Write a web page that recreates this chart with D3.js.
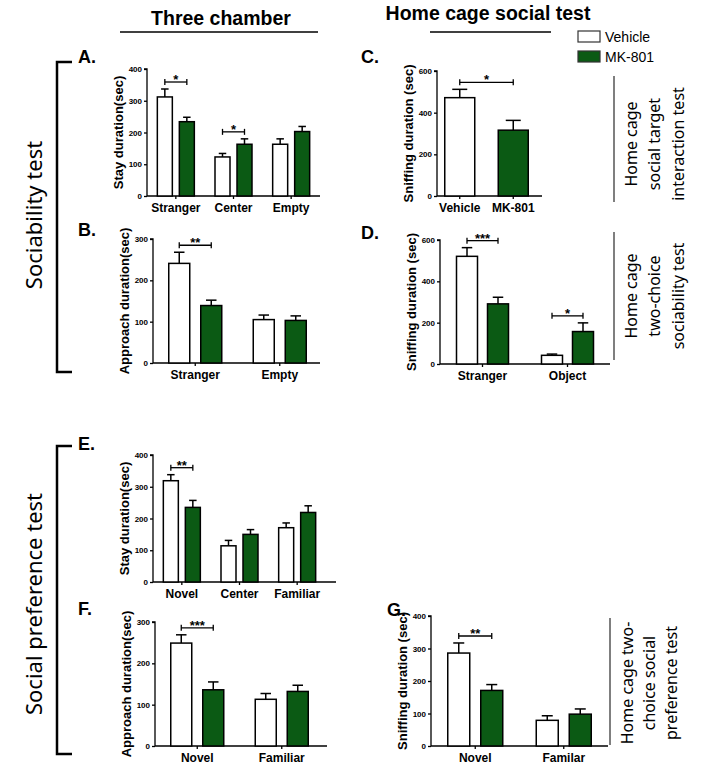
<!DOCTYPE html>
<html>
<head>
<meta charset="utf-8">
<script src="https://cdn.jsdelivr.net/npm/d3@7"></script>
<style>
  body { margin: 0; background: #fff; }
  svg text { font-family: "Liberation Sans", Arial, sans-serif; }
  .side { font-family: "Noto Sans", "Open Sans", sans-serif !important; }
</style>
</head>
<body>
<svg id="fig" width="722" height="770"></svg>
<script>
const groups = ['Vehicle', 'MK-801'];

// A. Three chamber, sociability
const catsA = ['Stranger', 'Center', 'Empty'];
const vehA = [312, 123, 163];
const vehErrA = [25, 11, 17];
const mkA = [234, 163, 203];
const mkErrA = [14, 17, 16];
const sigA = ['*', '*', ''];
const ticksA = [0, 100, 200, 300, 400];

// B. Three chamber approach
const catsB = ['Stranger', 'Empty'];
const vehB = [241, 105];
const vehErrB = [27, 11];
const mkB = [139, 103];
const mkErrB = [13, 11];
const sigB = ['**', ''];
const ticksB = [0, 100, 200, 300];

// C. Home cage social target interaction
const catsC = ['Vehicle', 'MK-801'];
const valC = [472, 316];
const errC = [40, 47];
const sigC = '*';
const ticksC = [0, 200, 400, 600];

// D. Home cage two-choice sociability
const catsD = ['Stranger', 'Object'];
const vehD = [521, 42];
const vehErrD = [42, 6];
const mkD = [291, 157];
const mkErrD = [32, 42];
const sigD = ['***', '*'];
const ticksD = [0, 200, 400, 600];

// E. Three chamber, social preference
const catsE = ['Novel', 'Center', 'Familiar'];
const vehE = [319, 114, 171];
const vehErrE = [19, 17, 15];
const mkE = [235, 150, 219];
const mkErrE = [22, 15, 21];
const sigE = ['**', '', ''];
const ticksE = [0, 100, 200, 300, 400];

// F. approach, social preference
const catsF = ['Novel', 'Familiar'];
const vehF = [249, 113];
const vehErrF = [20, 14];
const mkF = [136, 132];
const mkErrF = [19, 15];
const sigF = ['***', ''];
const ticksF = [0, 100, 200, 300];

// G. home cage two-choice social preference
const catsG = ['Novel', 'Familar'];
const vehG = [286, 79];
const vehErrG = [31, 14];
const mkG = [171, 98];
const mkErrG = [18, 16];
const sigG = ['**', ''];
const ticksG = [0, 100, 200, 300, 400];

const GREEN = '#0b5a14';
const svg = d3.select('#fig');

function drawPanel(cfg) {
  const g = svg.append('g');
  const y = d3.scaleLinear()
    .domain([0, d3.max(cfg.ticks)])
    .range([cfg.bottom, cfg.top]);
  const x = cfg.x;
  const inner = cfg.inner;

  // y axis
  const yAxis = g.append('g')
    .attr('transform', `translate(${cfg.left},0)`)
    .call(d3.axisLeft(y).tickValues(cfg.ticks).tickSize(3).tickPadding(2));
  yAxis.selectAll('path, line').attr('stroke', '#000').attr('stroke-width', 1.3);
  yAxis.select('.domain').attr('d', `M-3,${cfg.top}H0V${cfg.bottom}`);
  yAxis.selectAll('text').style('font-size', '8px').style('font-weight', 'bold')
    .style('font-family', '"Liberation Sans", Arial, sans-serif');

  // x axis
  const xAxis = g.append('g')
    .attr('transform', `translate(0,${cfg.bottom})`)
    .call(d3.axisBottom(x).tickSize(3).tickPadding(4));
  xAxis.selectAll('path, line').attr('stroke', '#000').attr('stroke-width', 1.3);
  xAxis.select('.domain').attr('d', `M${cfg.left},0H${cfg.axisEnd}`);
  xAxis.selectAll('text').style('font-size', '12px').style('font-weight', 'bold')
    .style('font-family', '"Liberation Sans", Arial, sans-serif');

  // y label
  g.append('text')
    .attr('transform', `translate(${cfg.left - 24},${(cfg.top + cfg.bottom) / 2}) rotate(-90)`)
    .attr('text-anchor', 'middle')
    .style('font-size', '13px')
    .style('font-weight', 'bold')
    .text(cfg.yLabel);

  // bars + error bars
  cfg.series.forEach(s => {
    const rows = cfg.cats.map((c, i) => ({ c, i, v: s.vals[i], e: s.errs[i] }));
    const bx = d => x(d.c) + x.bandwidth() / 2 + inner(s.name);
    const bw = inner.bandwidth();
    const eg = g.append('g').attr('stroke', '#000').attr('stroke-width', 1.5);
    eg.selectAll('line.err').data(rows).join('line')
      .attr('x1', d => bx(d) + bw / 2).attr('x2', d => bx(d) + bw / 2)
      .attr('y1', d => y(d.v)).attr('y2', d => y(d.v + d.e));
    eg.selectAll('line.cap').data(rows).join('line')
      .attr('x1', d => bx(d) + bw * 0.25).attr('x2', d => bx(d) + bw * 0.75)
      .attr('y1', d => y(d.v + d.e)).attr('y2', d => y(d.v + d.e));
    g.selectAll(null).data(rows).join('rect')
      .attr('x', bx)
      .attr('y', d => y(d.v))
      .attr('width', bw)
      .attr('height', d => y(0) - y(d.v))
      .attr('fill', d => typeof s.fill === 'function' ? s.fill(d) : s.fill)
      .attr('stroke', '#000')
      .attr('stroke-width', 1.5);
  });

  // significance brackets
  cfg.sig.forEach(sg => {
    if (!sg.label) return;
    const top = d3.max(sg.items, it => it.v + it.e);
    const yy = y(top) - 7;
    const x1 = sg.items[0].cx, x2 = sg.items[1].cx;
    const sgG = g.append('g').attr('stroke', '#000').attr('stroke-width', 1.3);
    sgG.append('line').attr('x1', x1).attr('x2', x2).attr('y1', yy).attr('y2', yy);
    sgG.append('line').attr('x1', x1).attr('x2', x1).attr('y1', yy - 3).attr('y2', yy + 3);
    sgG.append('line').attr('x1', x2).attr('x2', x2).attr('y1', yy - 3).attr('y2', yy + 3);
    g.append('text')
      .attr('x', (x1 + x2) / 2).attr('y', yy + 2)
      .attr('text-anchor', 'middle')
      .style('font-size', '13px')
      .style('font-weight', 'bold')
      .text(sg.label);
  });
}

function grouped(cats, veh, vehErr, mk, mkErr, sig, ticks, yLabel, box) {
  const x = d3.scaleBand().domain(cats).range([box.left, box.right]);
  const half = box.barW + box.gap / 2;
  const inner = d3.scaleBand().domain(groups).range([-half, half])
    .paddingInner(box.gap / (box.barW + box.gap));
  const cx = (c, name) => x(c) + x.bandwidth() / 2 + inner(name) + inner.bandwidth() / 2;
  drawPanel(Object.assign({}, box, {
    x, inner, cats, ticks, yLabel,
    series: [
      { name: 'Vehicle', vals: veh, errs: vehErr, fill: '#fff' },
      { name: 'MK-801', vals: mk, errs: mkErr, fill: GREEN }
    ],
    sig: cats.map((c, i) => ({
      label: sig[i],
      items: [
        { cx: cx(c, 'Vehicle'), v: veh[i], e: vehErr[i] },
        { cx: cx(c, 'MK-801'), v: mk[i], e: mkErr[i] }
      ]
    }))
  }));
}

grouped(catsA, vehA, vehErrA, mkA, mkErrA, sigA, ticksA, 'Stay duration(sec)',
  { left: 147, right: 320, axisEnd: 320, top: 69, bottom: 196, barW: 15, gap: 7 });
grouped(catsB, vehB, vehErrB, mkB, mkErrB, sigB, ticksB, 'Approach duration(sec)',
  { left: 153, right: 322, axisEnd: 320, top: 239, bottom: 363, barW: 21, gap: 11 });
grouped(catsD, vehD, vehErrD, mkD, mkErrD, sigD, ticksD, 'Sniffing duration (sec)',
  { left: 440, right: 610, axisEnd: 610, top: 240, bottom: 364, barW: 21, gap: 10 });
grouped(catsE, vehE, vehErrE, mkE, mkErrE, sigE, ticksE, 'Stay duration(sec)',
  { left: 153, right: 326, axisEnd: 336, top: 455, bottom: 582, barW: 15, gap: 7 });
grouped(catsF, vehF, vehErrF, mkF, mkErrF, sigF, ticksF, 'Approach duration(sec)',
  { left: 155, right: 324, axisEnd: 327, top: 622, bottom: 746, barW: 21, gap: 11 });
grouped(catsG, vehG, vehErrG, mkG, mkErrG, sigG, ticksG, 'Sniffing duration (sec)',
  { left: 431, right: 608, axisEnd: 608, top: 616, bottom: 746, barW: 22, gap: 11 });

// C: one bar per category, coloured by group
(function () {
  const box = { left: 437, axisEnd: 542, top: 71, bottom: 196 };
  const x = d3.scaleBand().domain(catsC).range([433, 540]);
  const inner = d3.scaleBand().domain(['all']).range([-15, 15]);
  const cx = c => x(c) + x.bandwidth() / 2;
  drawPanel(Object.assign({}, box, {
    x, inner, cats: catsC, ticks: ticksC, yLabel: 'Sniffing duration (sec)',
    series: [{ name: 'all', vals: valC, errs: errC, fill: d => d.i ? GREEN : '#fff' }],
    sig: [{ label: sigC, items: catsC.map((c, i) => ({ cx: cx(c), v: valC[i], e: errC[i] })) }]
  }));
})();

// panel letters
const letters = [['A.', 78, 63], ['B.', 78, 236], ['C.', 361, 63], ['D.', 361, 239],
  ['E.', 78, 450], ['F.', 78, 615], ['G.', 387, 616]];
svg.selectAll('text.letter').data(letters).join('text')
  .attr('class', 'letter')
  .attr('x', d => d[1]).attr('y', d => d[2])
  .style('font-size', '18px').style('font-weight', 'bold')
  .text(d => d[0]);

// section titles
svg.append('text').attr('x', 221).attr('y', 25).attr('text-anchor', 'middle')
  .style('font-size', '19.5px').style('font-weight', 'bold').text('Three chamber');
svg.append('line').attr('x1', 120).attr('x2', 318).attr('y1', 32).attr('y2', 32)
  .attr('stroke', '#000').attr('stroke-width', 1.5);
svg.append('text').attr('x', 488).attr('y', 20).attr('text-anchor', 'middle')
  .style('font-size', '19.5px').style('font-weight', 'bold').text('Home cage social test');
svg.append('line').attr('x1', 430).attr('x2', 551).attr('y1', 32).attr('y2', 32)
  .attr('stroke', '#000').attr('stroke-width', 1.5);

// legend
const legend = svg.append('g').attr('transform', 'translate(578,31)');
groups.forEach((name, i) => {
  legend.append('rect').attr('x', 0).attr('y', i * 20).attr('width', 22).attr('height', 11)
    .attr('fill', i ? GREEN : '#fff').attr('stroke', '#333').attr('stroke-width', 1.2);
  legend.append('text').attr('x', 27).attr('y', i * 20 + 10.5)
    .style('font-size', '14px').text(name);
});

// left brackets and labels
svg.append('path').attr('d', 'M72,62H57V372H72').attr('fill', 'none')
  .attr('stroke', '#000').attr('stroke-width', 2.5);
svg.append('path').attr('d', 'M72,446H57V754H72').attr('fill', 'none')
  .attr('stroke', '#000').attr('stroke-width', 2.5);
svg.append('text').attr('class', 'side')
  .attr('transform', 'translate(42,215) rotate(-90)').attr('text-anchor', 'middle')
  .style('font-size', '22px').text('Sociability test');
svg.append('text').attr('class', 'side')
  .attr('transform', 'translate(42,604) rotate(-90)').attr('text-anchor', 'middle')
  .style('font-size', '22px').text('Social preference test');

// right side labels
const sideBlocks = [
  { line: [614, 76, 202], cy: 144, xs: [637, 660, 684], lines: ['Home cage', 'social target', 'interaction test'] },
  { line: [614, 232, 360], cy: 296, xs: [637, 660, 684], lines: ['Home cage', 'two-choice', 'sociability test'] },
  { line: [610, 618, 745], cy: 683, xs: [633, 655, 677], lines: ['Home cage two-', 'choice social', 'preference test'] }
];
sideBlocks.forEach(b => {
  svg.append('line').attr('x1', b.line[0]).attr('x2', b.line[0])
    .attr('y1', b.line[1]).attr('y2', b.line[2])
    .attr('stroke', '#555').attr('stroke-width', 1.5);
  b.lines.forEach((t, i) => {
    svg.append('text').attr('class', 'side')
      .attr('transform', `translate(${b.xs[i]},${b.cy}) rotate(-90)`)
      .attr('text-anchor', 'middle')
      .style('font-size', '16px').text(t);
  });
});
</script>
</body>
</html>
